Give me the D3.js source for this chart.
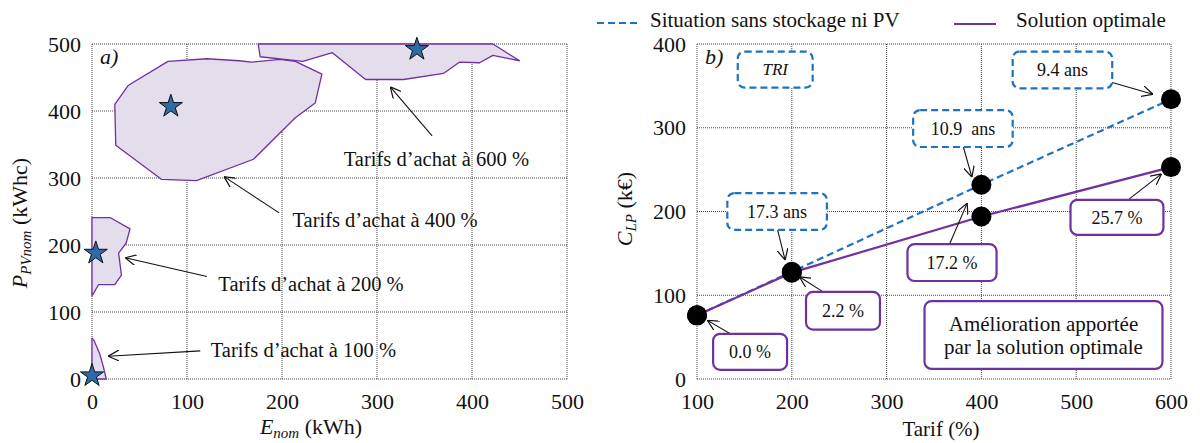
<!DOCTYPE html>
<html>
<head>
<meta charset="utf-8">
<script src="https://cdn.jsdelivr.net/npm/d3@7"></script>
</head>
<body style="margin:0;background:#fff">
<div class="canvas"></div>
<script>
// ---- data : panel a) ----
const ticksE = [0, 100, 200, 300, 400, 500];
const ticksP = [0, 100, 200, 300, 400, 500];
const zoneNames = ['Tarifs d’achat à 100 %', 'Tarifs d’achat à 200 %', 'Tarifs d’achat à 400 %', 'Tarifs d’achat à 600 %'];
const zone100 = [[0, 61], [2, 58], [8, 38], [12, 18], [15, 0], [0, 0]];
const zone200 = [[0, 241], [19, 241], [40, 224], [36, 203], [28, 188], [31, 155], [24, 141], [7, 141], [0, 124]];
const zone400 = [[25, 349], [24, 410], [38, 438], [80, 474], [121, 478], [155, 475], [168, 473], [198, 477],
  [214, 474], [242, 455], [235, 412], [214, 390], [170, 328], [110, 296], [73, 298]];
const zone600 = [[175, 500], [422, 500], [450, 475], [422, 483], [408, 472], [387, 473], [370, 456],
  [328, 447], [288, 447], [253, 487], [222, 474], [177, 481]];
const optimumE = [0, 4, 83, 342];
const optimumP = [5, 188, 407, 492];

// ---- data : panel b) ----
const tarifs = [100, 200, 400, 600];
const coutSansStockage = [76, 128, 232, 334];
const coutOptimal = [76, 127, 194, 253];
const triLabels = ['17.3 ans', '10.9  ans', '9.4 ans'];
const gainLabels = ['0.0 %', '2.2 %', '17.2 %', '25.7 %'];
const ticksTarif = [100, 200, 300, 400, 500, 600];
const ticksCout = [0, 100, 200, 300, 400];

const serif = "'Liberation Serif'";

const svg = d3.select('.canvas').append('svg')
  .attr('width', 1200)
  .attr('height', 443);

const defs = svg.append('defs');
defs.append('marker')
  .attr('id', 'head')
  .attr('viewBox', '0 0 10 10')
  .attr('refX', 10).attr('refY', 5)
  .attr('markerWidth', 11).attr('markerHeight', 11)
  .attr('markerUnits', 'userSpaceOnUse')
  .attr('orient', 'auto')
  .append('path')
    .attr('d', 'M0,0 L10,5 L0,10')
    .attr('fill', 'none')
    .attr('stroke', '#111')
    .attr('stroke-width', 1.1);

const purple = '#7030a0';
const blue = '#1f72c0';

// draws dotted grid + frame and tick labels
const drawFrame = (g, x, y, xt, yt, w, h) => {
  g.append('g').selectAll('line.v').data(xt).enter().append('line')
    .attr('x1', d => x(d)).attr('x2', d => x(d)).attr('y1', 0).attr('y2', h);
  g.append('g').selectAll('line.h').data(yt).enter().append('line')
    .attr('y1', d => y(d)).attr('y2', d => y(d)).attr('x1', 0).attr('x2', w);
  g.selectAll('line')
    .attr('stroke', '#444')
    .attr('stroke-width', 1)
    .attr('stroke-dasharray', '1,1');

  const ax = g.append('g').attr('transform', `translate(0,${h})`)
    .call(d3.axisBottom(x).tickValues(xt).tickSize(0).tickPadding(13));
  const ay = g.append('g')
    .call(d3.axisLeft(y).tickValues(yt).tickSize(0).tickPadding(11));
  [ax, ay].forEach(a => {
    a.attr('font-size', 22);
    a.select('.domain').remove();
    a.selectAll('text').attr('fill', '#111');
  });
  ax.selectAll('text').attr('dy', '0.75em');
};

const arrow = (g, x0, y0, x1, y1) => {
  g.append('line')
    .attr('x1', x0).attr('y1', y0).attr('x2', x1).attr('y2', y1)
    .attr('stroke', '#111').attr('stroke-width', 1.1)
    .attr('marker-end', 'url(#head)');
};

// ================= panel a) =================
const wA = 475, hA = 335;
const gA = svg.append('g').attr('transform', 'translate(92,44)');
const xA = d3.scaleLinear().domain([0, 500]).range([0, wA]);
const yA = d3.scaleLinear().domain([0, 500]).range([hA, 0]);

drawFrame(gA, xA, yA, ticksE, ticksP, wA, hA);

const line = d3.line().x(d => xA(d[0])).y(d => yA(d[1])).curve(d3.curveLinearClosed);
gA.selectAll('path.zone')
  .data([zone100, zone200, zone400, zone600])
  .enter().append('path')
    .attr('class', 'zone')
    .attr('d', line)
    .attr('fill', '#e4deec')
    .attr('stroke', purple)
    .attr('stroke-width', 1.3)
    .attr('stroke-linejoin', 'round');

const star = d3.symbol().type(d3.symbolStar).size(165);
gA.selectAll('path.star')
  .data(optimumE)
  .enter().append('path')
    .attr('class', 'star')
    .attr('d', star)
    .attr('transform', (d, i) => `translate(${xA(d)},${yA(optimumP[i])})`)
    .attr('fill', '#2e6aa3')
    .attr('stroke', '#111')
    .attr('stroke-width', 1);

// zone labels & arrows (data coordinates)
const zoneLabelPos = [[125, 33], [133, 131], [211, 227], [265, 318]];
const zoneArrows = [
  [[114, 42], [17, 34]],
  [[121, 153], [35, 181]],
  [[197, 248], [139, 302]],
  [[358, 363], [314, 436]]
];
zoneNames.forEach((name, i) => {
  gA.append('text')
    .attr('x', xA(zoneLabelPos[i][0]))
    .attr('y', yA(zoneLabelPos[i][1]))
    .attr('font-size', 20.5)
    .text(name);
  const [a, b] = zoneArrows[i];
  arrow(gA, xA(a[0]), yA(a[1]), xA(b[0]), yA(b[1]));
});

gA.append('text')
  .attr('x', 8).attr('y', 20)
  .attr('font-size', 22)
  .attr('font-style', 'italic')
  .text('a)');

// axis titles
const titleE = svg.append('text')
  .attr('x', 311).attr('y', 434)
  .attr('text-anchor', 'middle')
  .attr('font-size', 22);
titleE.append('tspan').attr('font-style', 'italic').text('E');
titleE.append('tspan').attr('font-style', 'italic').attr('font-size', 15).attr('dy', 4).text('nom');
titleE.append('tspan').attr('dy', -4).text(' (kWh)');

const titleP = svg.append('text')
  .attr('transform', 'translate(27,223) rotate(-90)')
  .attr('text-anchor', 'middle')
  .attr('font-size', 22);
titleP.append('tspan').attr('font-style', 'italic').text('P');
titleP.append('tspan').attr('font-style', 'italic').attr('font-size', 15).attr('dy', 4).text('PVnom');
titleP.append('tspan').attr('dy', -4).text(' (kWhc)');

// ================= panel b) =================
const wB = 474, hB = 335;
const gB = svg.append('g').attr('transform', 'translate(697,44)');
const xB = d3.scaleLinear().domain([100, 600]).range([0, wB]);
const yB = d3.scaleLinear().domain([0, 400]).range([hB, 0]);

drawFrame(gB, xB, yB, ticksTarif, ticksCout, wB, hB);

const lineB = d3.line().x(d => xB(d[0])).y(d => yB(d[1]));
gB.append('path')
  .datum(tarifs.map((t, i) => [t, coutSansStockage[i]]))
  .attr('d', lineB)
  .attr('fill', 'none')
  .attr('stroke', blue)
  .attr('stroke-width', 2.2)
  .attr('stroke-dasharray', '7,4');
gB.append('path')
  .datum(tarifs.map((t, i) => [t, coutOptimal[i]]))
  .attr('d', lineB)
  .attr('fill', 'none')
  .attr('stroke', purple)
  .attr('stroke-width', 2.2);

const points = tarifs.map((t, i) => [t, coutSansStockage[i]])
  .concat(tarifs.map((t, i) => [t, coutOptimal[i]]));
gB.selectAll('circle')
  .data(points)
  .enter().append('circle')
    .attr('cx', d => xB(d[0]))
    .attr('cy', d => yB(d[1]))
    .attr('r', 10)
    .attr('fill', '#000');

// annotation boxes (data coordinates: x0, x1, yTop, yBottom)
const drawBox = (b, label, dashed, opts = {}) => {
  const color = dashed ? blue : purple;
  const x0 = xB(b[0]), x1 = xB(b[1]), y0 = yB(b[2]), y1 = yB(b[3]);
  gB.append('rect')
    .attr('x', x0).attr('y', y0)
    .attr('width', x1 - x0).attr('height', y1 - y0)
    .attr('rx', 7).attr('ry', 7)
    .attr('fill', '#fff')
    .attr('stroke', color)
    .attr('stroke-width', 2.2)
    .attr('stroke-dasharray', dashed ? '7,4' : null);
  const lines = Array.isArray(label) ? label : [label];
  const fs = opts.size || 18;
  const lh = fs * 1.1;
  lines.forEach((l, k) => {
    gB.append('text')
      .attr('x', (x0 + x1) / 2)
      .attr('y', (y0 + y1) / 2 + (k - (lines.length - 1) / 2) * lh)
      .attr('dy', '0.35em')
      .attr('text-anchor', 'middle')
      .attr('font-size', fs)
      .attr('font-style', opts.italic ? 'italic' : null)
      .style('white-space', 'pre')
      .text(l);
  });
};

const triBoxes = [[132, 237, 222, 178], [328, 433, 321, 277], [433, 538, 391, 347]];
const triArrows = [[[185, 178], [193, 142]], [[381, 277], [390, 241]], [[538, 354], [581, 340]]];
const gainBoxes = [[117, 195, 54, 11], [215, 293, 104, 59], [322, 416, 161, 117], [494, 592, 214, 172]];
const gainArrows = [[[135, 54], [111, 70]], [[233, 104], [208, 122]], [[366, 160], [385, 210]], [[556, 215], [590, 245]]];

triArrows.forEach(([a, b]) => arrow(gB, xB(a[0]), yB(a[1]), xB(b[0]), yB(b[1])));
gainArrows.forEach(([a, b]) => arrow(gB, xB(a[0]), yB(a[1]), xB(b[0]), yB(b[1])));

drawBox([143, 222, 391, 348], 'TRI', true, { italic: true, size: 17 });
triLabels.forEach((l, i) => drawBox(triBoxes[i], l, true));
gainLabels.forEach((l, i) => drawBox(gainBoxes[i], l, false));
drawBox([340, 591, 93, 12], ['Amélioration apportée', 'par la solution optimale'], false, { size: 21 });

gB.append('text')
  .attr('x', 8).attr('y', 20)
  .attr('font-size', 22)
  .attr('font-style', 'italic')
  .text('b)');

// axis titles
svg.append('text')
  .attr('x', 941).attr('y', 436)
  .attr('text-anchor', 'middle')
  .attr('font-size', 21)
  .text('Tarif (%)');

const titleC = svg.append('text')
  .attr('transform', 'translate(632,209) rotate(-90)')
  .attr('text-anchor', 'middle')
  .attr('font-size', 22);
titleC.append('tspan').attr('font-style', 'italic').text('C');
titleC.append('tspan').attr('font-style', 'italic').attr('font-size', 15).attr('dy', 4).text('LP');
titleC.append('tspan').attr('dy', -4).text(' (k€)');

// legend
const legend = svg.append('g');
legend.append('line')
  .attr('x1', 597).attr('x2', 639).attr('y1', 23).attr('y2', 23)
  .attr('stroke', blue).attr('stroke-width', 2.2).attr('stroke-dasharray', '7,4');
legend.append('text')
  .attr('x', 650).attr('y', 27)
  .attr('font-size', 21)
  .text('Situation sans stockage ni PV');
legend.append('line')
  .attr('x1', 954).attr('x2', 996).attr('y1', 24).attr('y2', 24)
  .attr('stroke', purple).attr('stroke-width', 2.2);
legend.append('text')
  .attr('x', 1016).attr('y', 27)
  .attr('font-size', 21)
  .text('Solution optimale');

// serif everywhere
svg.selectAll('text')
  .style('font-family', serif)
  .style('fill', '#111');
</script>
</body>
</html>
